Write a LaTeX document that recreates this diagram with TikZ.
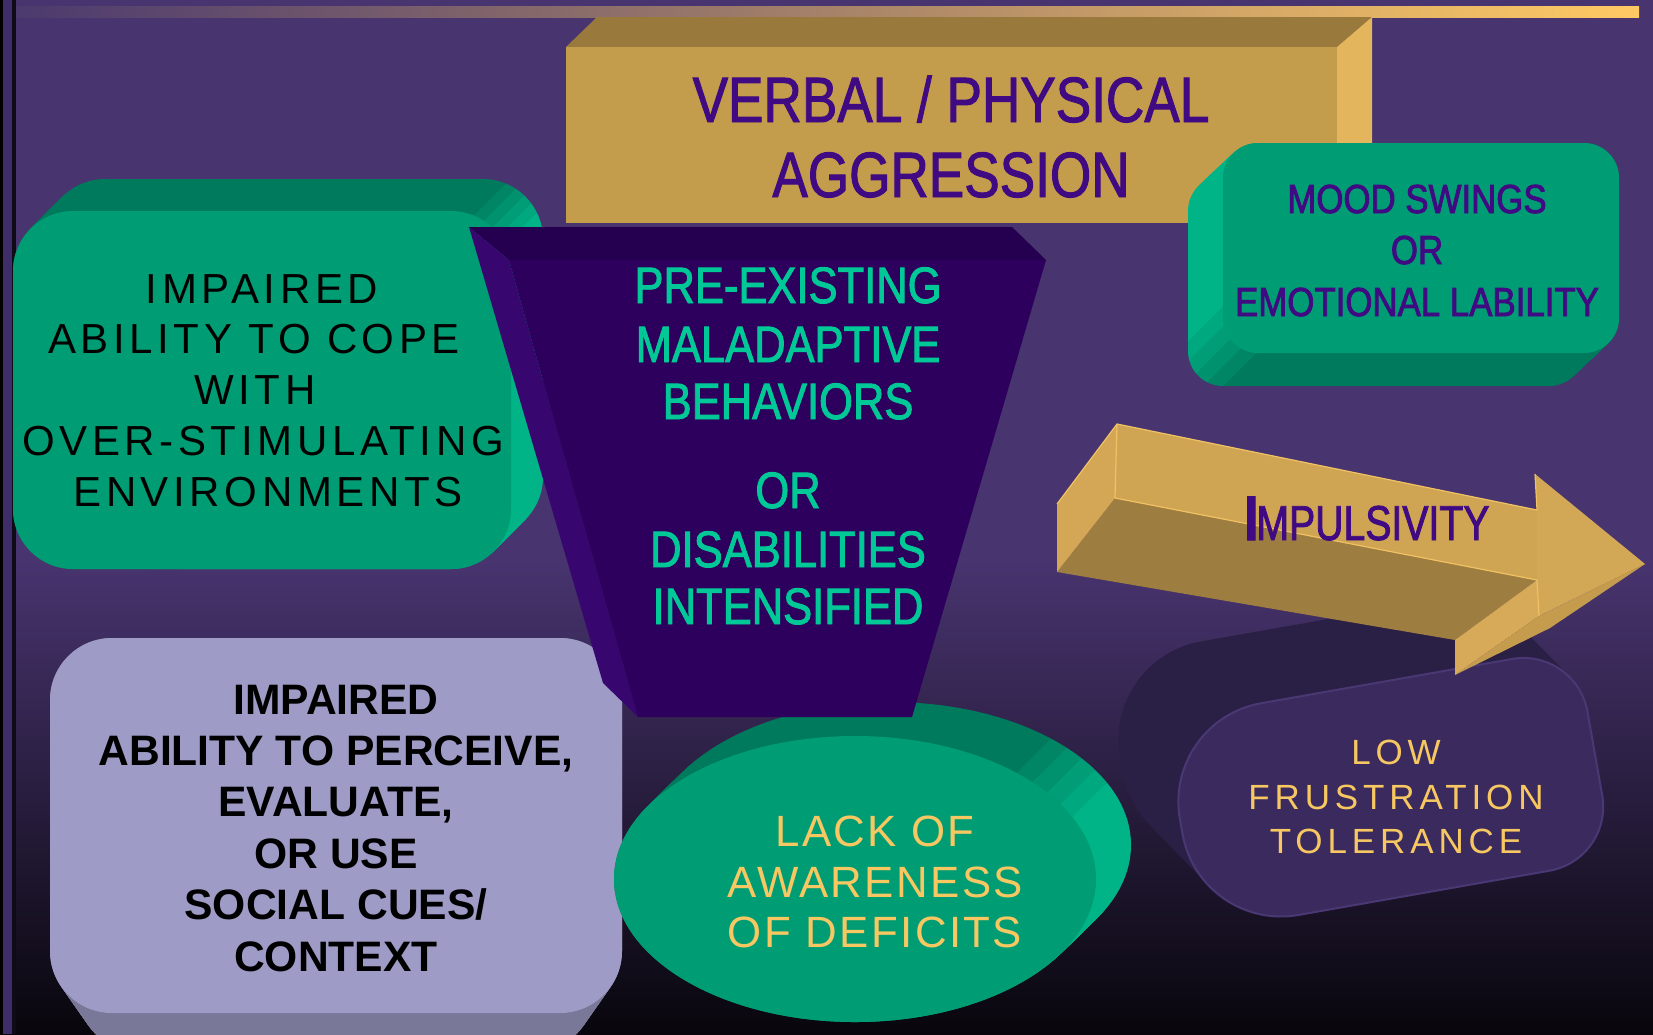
\documentclass[tikz,border=0pt]{standalone}
\usepackage{fontspec}
\setmainfont{Liberation Sans}
\newfontfamily\narrowfont[FakeStretch=0.83,FakeBold=1.5]{Liberation Sans}
\newfontfamily\trapfont[FakeStretch=0.85,FakeBold=1.8]{Liberation Sans}
\newfontfamily\moodfont[FakeStretch=0.86,FakeBold=2]{Liberation Sans}
\newfontfamily\impfont[FakeStretch=0.8,FakeBold=1.8]{Liberation Sans}
\newfontfamily\wideA[LetterSpace=11]{Liberation Sans}
\newfontfamily\wideB[LetterSpace=5.5]{Liberation Sans}
\newfontfamily\wideC[LetterSpace=14]{Liberation Sans}
\definecolor{bgtop}{HTML}{48346F}
\definecolor{bgbot}{HTML}{08060C}
\definecolor{barpurple}{HTML}{3E2D68}
\definecolor{barblack}{HTML}{0E0A18}
\definecolor{topbarL}{HTML}{4C3A6E}
\definecolor{topbarR}{HTML}{FFCA64}
\definecolor{gfront}{HTML}{009C74}
\definecolor{gdark}{HTML}{007A5C}
\definecolor{glight}{HTML}{00B488}
\definecolor{goldfront}{HTML}{C39C4C}
\definecolor{goldtop}{HTML}{9A7A3C}
\definecolor{goldright}{HTML}{E3B55C}
\definecolor{traptop}{HTML}{260050}
\definecolor{trapleft}{HTML}{37076F}
\definecolor{trapfront}{HTML}{2E005E}
\definecolor{tpurple}{HTML}{3F0A82}
\definecolor{tteal}{HTML}{00C896}
\definecolor{tgold}{HTML}{F7C862}
\definecolor{lavfront}{HTML}{9E9CC6}
\definecolor{lavext}{HTML}{7A7898}
\definecolor{cylfront}{HTML}{3B2A5D}
\definecolor{cylext}{HTML}{2A1F44}
\definecolor{cylrim}{HTML}{4A3874}
\definecolor{arrtop}{HTML}{CFA452}
\definecolor{arrend}{HTML}{D4A756}
\definecolor{arrdark}{HTML}{9E7D40}
\definecolor{arrhead}{HTML}{D2A756}
\definecolor{arrheadlow}{HTML}{D6AA58}
\definecolor{arrheadr}{HTML}{C59C4E}
\definecolor{arrhi}{HTML}{F0C264}
\newcommand\fGold{\narrowfont\fontsize{32}{36}\selectfont}
\newcommand\fTrap{\trapfont\fontsize{25.6}{29}\selectfont}
\newcommand\fMood{\moodfont\fontsize{20.25}{24}\selectfont}
\newcommand\fLeftGreen{\wideA\fontsize{21}{25}\selectfont}
\newcommand\fEllip{\wideB\fontsize{21.9}{25}\selectfont}
\newcommand\fCyl{\wideC\fontsize{17.5}{21}\selectfont}
\newcommand\fLav{\bfseries\fontsize{21.3}{25}\selectfont}
\def\cylpath{(-110,-107.5) -- (145,-107.5) .. controls (180.9,-107.5) and (210,-78.4) .. (210,-42.5) -- (210,42.5) .. controls (210,78.4) and (180.9,107.5) .. (145,107.5) -- (-110,107.5) .. controls (-165.2,107.5) and (-210,62.7) .. (-210,7.5) -- (-210,-7.5) .. controls (-210,-62.7) and (-165.2,-107.5) .. (-110,-107.5) -- cycle}
% copies of the extruded shapes
\newcommand\moodCopies[1]{\foreach \k in {0,...,35} {\fill[#1, rounded corners=17.5pt] ({1223-\k},{143+0.943*\k}) rectangle ({1619-\k},{353+0.943*\k});}}
\newcommand\leftCopies[1]{\foreach \k in {0,...,32} {\fill[#1, rounded corners=30pt] ({13+\k},{211-\k}) rectangle ({511+\k},{569-\k});}}
\newcommand\ellCopies[1]{\foreach \k in {0,...,35} {\fill[#1] ({855+\k},{879-0.971*\k}) ellipse [x radius=241, y radius=143];}}
% strip lo < x+y < hi
\newcommand\bandClip[2]{\clip ({#1+100},-100) -- ({#2+100},-100) -- (-100,{#2+100}) -- (-100,{#1+100}) -- cycle;}
\begin{document}
\begin{tikzpicture}[x=0.5pt,y=-0.5pt, txt/.style={inner sep=0pt,anchor=base}]
\useasboundingbox (0,0) rectangle (1653,1034);
\clip (0,0) rectangle (1653,1034);
% background
\fill[bgtop] (0,0) rectangle (1653,1034);
\shade[top color=bgtop, bottom color=bgbot] (0,560) rectangle (1653,1034);
\fill[black] (0,0) rectangle (3,1034);
\fill[barpurple] (3,0) rectangle (12,1034);
\fill[barblack] (12,0) rectangle (16,1034);
\shade[left color=topbarL, right color=topbarR] (16,6) rectangle (1639,17);
% gold box
\fill[goldtop] (566,47) -- (597,17) -- (1372,17) -- (1337,47) -- cycle;
\fill[goldright] (1337,47) -- (1372,17) -- (1372,190) -- (1337,223) -- cycle;
\fill[goldfront] (566,47) rectangle (1337,223);
\node[txt, font=\fGold, text=tpurple] (gold1) at (951,122) {VERBAL / PHYSICAL};
\node[txt, font=\fGold, text=tpurple] (gold2) at (951,197) {AGGRESSION};
% mood box
\foreach \col/\lo/\hi in {glight/-2000/1530, glight!80!gdark/1530/1550, glight!60!gdark/1550/1570, glight!40!gdark/1570/1590, glight!20!gdark/1590/1610, gdark/1610/5000}
  {\begin{scope}\bandClip{\lo}{\hi}\moodCopies{\col}\end{scope}}
\fill[gfront, rounded corners=17.5pt] (1223,143) rectangle (1619,353);
\node[txt, font=\fMood, text=tpurple] (mood1) at (1417,213) {MOOD SWINGS};
\node[txt, font=\fMood, text=tpurple] (mood2) at (1417,264) {OR};
\node[txt, font=\fMood, text=tpurple] (mood3) at (1417,316) {EMOTIONAL LABILITY};
% left green box
\foreach \col/\lo/\hi in {gdark/-2000/690, gdark!80!glight/690/705, gdark!60!glight/705/720, gdark!40!glight/720/735, gdark!20!glight/735/750, glight/750/5000}
  {\begin{scope}\bandClip{\lo}{\hi}\leftCopies{\col}\end{scope}}
\fill[gfront, rounded corners=30pt] (13,211) rectangle (511,569);
\foreach \t/\xx [count=\i] in {IMPAIRED/262,ABILITY TO COPE/254,WITH/255,OVER-STIMULATING/263,ENVIRONMENTS/268}
  \node[txt, font=\fLeftGreen, text=black] (lg\i) at (\xx,{303+50.75*(\i-1)}) {\t};
% cylinder
\foreach \k in {0,2,...,60} {
  \begin{scope}[shift={({1388-\k},{790-1.03*\k})}, rotate=10]
  \fill[cylext] \cylpath;
  \end{scope}}
\begin{scope}[shift={(1388,790)}, rotate=10]
\fill[cylfront, draw=cylrim, line width=1pt] \cylpath;
\end{scope}
\node[txt, font=\fCyl, text=tgold] (cyl1) at (1396,764) {LOW};
\node[txt, font=\fCyl, text=tgold] (cyl2) at (1396,809) {FRUSTRATION};
\node[txt, font=\fCyl, text=tgold] (cyl3) at (1396,853) {TOLERANCE};
% arrow
\coordinate (aA) at (1117,424);
\coordinate (aB) at (1057,504);
\coordinate (aC) at (1057,572);
\coordinate (aD) at (1115,498);
\coordinate (aE) at (1537,510);
\coordinate (aF) at (1535,474);
\coordinate (aG) at (1645,564);
\coordinate (aH) at (1537,580);
\coordinate (aI) at (1455,640);
\coordinate (aJ) at (1455,675);
\coordinate (aK) at (1539,616);
\coordinate (aL) at (1550,628);
\fill[arrdark] (aD) -- (aH) -- (aI) -- (aC) -- cycle;
\fill[arrtop] (aA) -- (aE) -- (aH) -- (aD) -- cycle;
\fill[arrend] (aA) -- (aD) -- (aC) -- (aB) -- cycle;
\fill[arrhead] (aE) -- (aF) -- (aG) -- (aK) -- (aH) -- cycle;
\fill[arrheadlow] (aH) -- (aK) -- (aJ) -- (aI) -- cycle;
\fill[arrheadr] (aG) -- (aL) -- (aJ) -- (aK) -- cycle;
\draw[arrhi, line width=0.6pt] (aB) -- (aA) -- (aE);
\draw[arrhi, line width=0.6pt] (aA) -- (aD) -- (aH);
\draw[arrhi, line width=0.6pt] (aE) -- (aF);
\draw[arrhi, line width=0.6pt] (aH) -- (aK);
\node[txt, anchor=base west, text=tpurple, font=\impfont\bfseries\fontsize{31.4}{34}\selectfont] (impI) at (1244,540) {I};
\node[txt, anchor=base west, text=tpurple, font=\impfont\fontsize{24.5}{28}\selectfont] (impR) at (1256,540) {MPULSIVITY};
% lavender box
\foreach \k in {0,...,40} {\fill[lavext, rounded corners=31pt] ({50+0.7*\k},{638+\k}) rectangle ({622-0.7*\k},{1013+\k});}
\fill[lavfront, rounded corners=31pt] (50,638) rectangle (622,1013);
\foreach \t [count=\i] in {IMPAIRED,{ABILITY TO PERCEIVE,},{EVALUATE,},OR USE,SOCIAL CUES/,CONTEXT}
  \node[txt, font=\fLav, text=black] (lav\i) at (336,{714+51.4*(\i-1)}) {\t};
% ellipse
\foreach \col/\lo/\hi in {gdark/-2000/1790, gdark!80!glight/1790/1815, gdark!60!glight/1815/1840, gdark!40!glight/1840/1865, gdark!20!glight/1865/1890, glight/1890/5000}
  {\begin{scope}\bandClip{\lo}{\hi}\ellCopies{\col}\end{scope}}
\fill[gfront] (855,879) ellipse [x radius=241, y radius=143];
\node[txt, font=\fEllip, text=tgold] (ell1) at (875,846) {LACK OF};
\node[txt, font=\fEllip, text=tgold] (ell2) at (875,897) {AWARENESS};
\node[txt, font=\fEllip, text=tgold] (ell3) at (875,947) {OF DEFICITS};
% trapezoid
\fill[traptop] (469,227) -- (1012,227) -- (1046,260) -- (509,260) -- cycle;
\fill[trapleft] (469,227) -- (509,260) -- (638,717) -- (603,683) -- cycle;
\fill[trapfront] (509,260) -- (1046,260) -- (912,717) -- (638,717) -- cycle;
\foreach \t/\yy [count=\i] in {PRE-EXISTING/303,MALADAPTIVE/362,BEHAVIORS/419,OR/508,DISABILITIES/567,INTENSIFIED/624}
  \node[txt, font=\fTrap, text=tteal] (trap\i) at (788,\yy) {\t};
\end{tikzpicture}
\end{document}
